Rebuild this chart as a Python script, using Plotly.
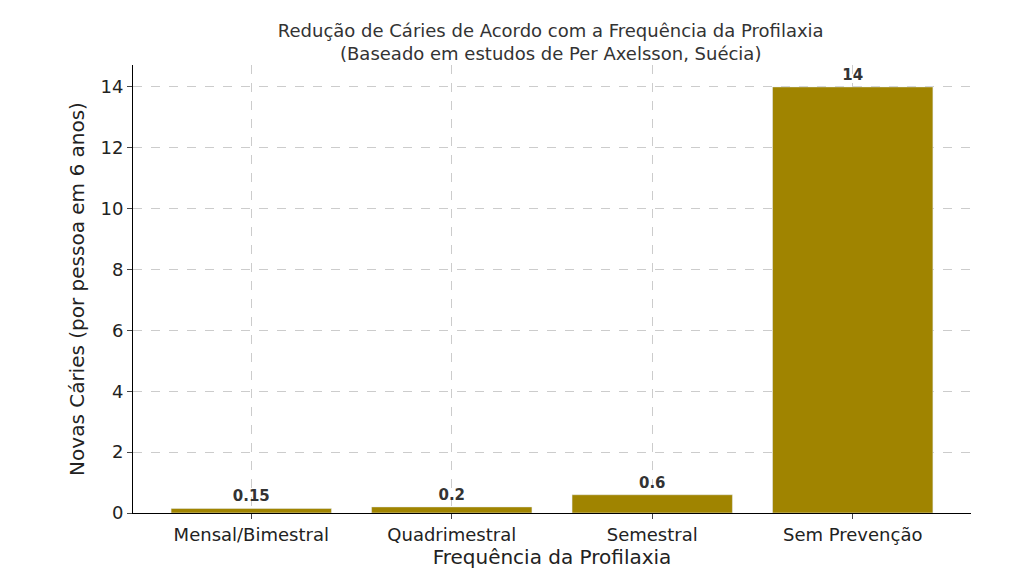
import plotly.graph_objects as go

# --- Data ------------------------------------------------------------------
categories = ["Mensal/Bimestral", "Quadrimestral", "Semestral", "Sem Prevenção"]
novas_caries = [0.15, 0.2, 0.6, 14]
labels = ["0.15", "0.2", "0.6", "14"]

bar_color = "#A08400"

fig = go.Figure()
fig.add_trace(
    go.Bar(
        x=list(range(len(categories))),
        y=novas_caries,
        width=0.8,
        marker_color=bar_color,
        text=labels,
        textposition="outside",
        textfont=dict(size=15, color="#333333", family="DejaVu Sans"),
        texttemplate="<b>%{text}</b>",
        cliponaxis=False,
    )
)

fig.update_layout(
    width=1024,
    height=576,
    margin=dict(l=125, r=61, t=57, b=71),
    plot_bgcolor="white",
    paper_bgcolor="white",
    font=dict(family="DejaVu Sans", size=17, color="#222222"),
    title=dict(
        text="Redução de Cáries de Acordo com a Frequência da Profilaxia<br>(Baseado em estudos de Per Axelsson, Suécia)",
        x=0.53,
        xanchor="center",
        y=0.95,
        yanchor="top",
        font=dict(size=18, color="#333333"),
    ),
    showlegend=False,
    xaxis=dict(
        tickmode="array",
        tickvals=list(range(len(categories))),
        ticktext=categories,
        range=[-0.59, 3.59],
        tickfont=dict(size=18),
        showgrid=True,
        gridcolor="#cccccc",
        griddash="dash",
        showline=True,
        linecolor="black",
        ticks="outside",
        ticklen=5,
        title=dict(text="Frequência da Profilaxia", standoff=4),
    ),
    yaxis=dict(
        range=[0, 14.72],
        tickvals=[0, 2, 4, 6, 8, 10, 12, 14],
        tickfont=dict(size=18),
        showgrid=True,
        gridcolor="#cccccc",
        griddash="dash",
        showline=True,
        linecolor="black",
        ticks="outside",
        ticklen=5,
        zeroline=False,
        title=dict(text="Novas Cáries (por pessoa em 6 anos)", standoff=10),
    ),
)

fig.write_html("out.html")
